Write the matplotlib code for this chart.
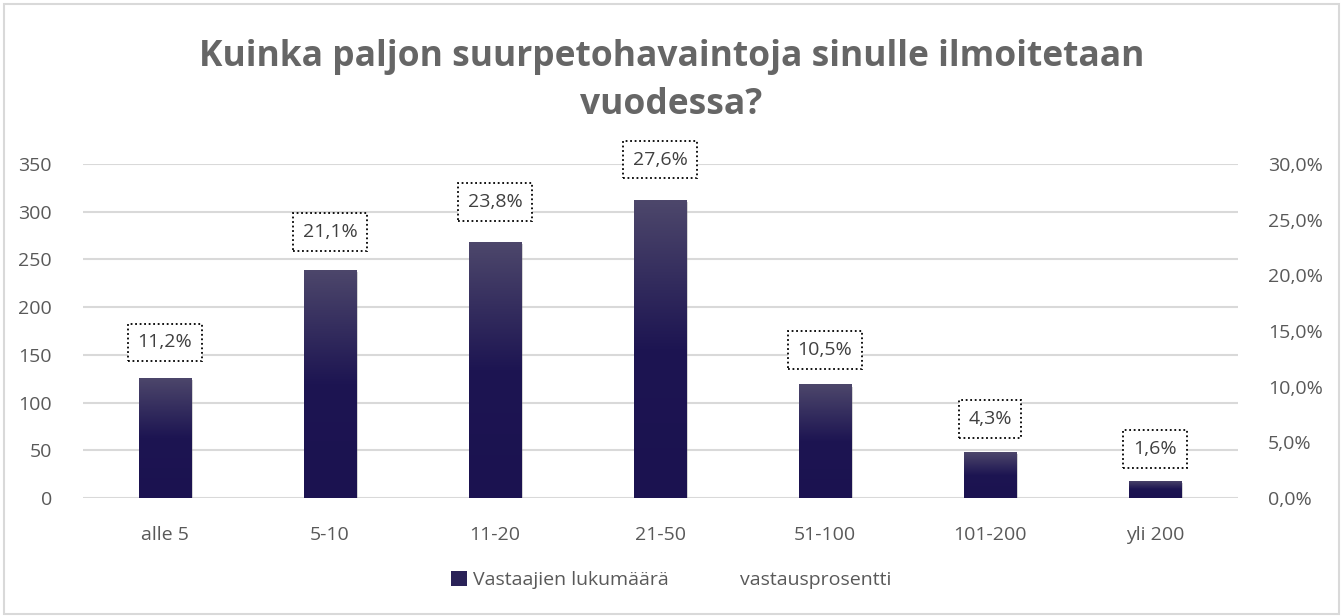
import numpy as np
import matplotlib.pyplot as plt
from matplotlib.colors import LinearSegmentedColormap
from matplotlib.lines import Line2D
from matplotlib.patches import Patch, Rectangle
import matplotlib.patheffects as pe

categories = ['alle 5', '5-10', '11-20', '21-50', '51-100', '101-200', 'yli 200']
counts = [126, 239, 268, 312, 119, 48, 18]
percents = [11.2, 21.1, 23.8, 27.6, 10.5, 4.3, 1.6]

left_ticks = [0, 50, 100, 150, 200, 250, 300, 350]
right_ticks = [0, 5, 10, 15, 20, 25, 30]

title = 'Kuinka paljon suurpetohavaintoja sinulle ilmoitetaan\nvuodessa?'
grey = '#595959'
font = 'Open Sans'

fig = plt.figure(figsize=(13.43, 6.16), dpi=100)
ax = fig.add_axes([82.5 / 1343, 118 / 616, 1155 / 1343, 334 / 616])
ax2 = ax.twinx()

# gradient from top (light) to dark, reaches dark about halfway down
cmap = LinearSegmentedColormap.from_list(
    'bar', [(0.0, '#1b1250'), (0.5, '#1d1552'), (1.0, '#4d476b')])
grad = np.linspace(0, 1, 256).reshape(-1, 1)

x = np.arange(len(categories))
bars = ax.bar(x, counts, width=0.32, color='#1b1250', zorder=2)
for b in bars:
    b.set_path_effects([pe.SimplePatchShadow(offset=(1.5, -1.5), shadow_rgbFace='#888888', alpha=0.35),
                        pe.Normal()])
    x0, y0 = b.get_x(), b.get_y()
    w, h = b.get_width(), b.get_height()
    im = ax.imshow(grad, cmap=cmap, origin='lower', aspect='auto',
                   extent=(x0, x0 + w, y0, y0 + h), zorder=3)
    im.set_clip_path(b)

ax.set_xlim(-0.5, len(categories) - 0.5)
ax.set_ylim(0, 350)
ax.set_yticks(left_ticks)
ax.set_xticks(x)
ax.set_xticklabels(categories)
ax.grid(axis='y', color='#d9d9d9', linewidth=1.5, zorder=0)
ax.set_axisbelow(True)
for s in ax.spines.values():
    s.set_visible(False)
ax.tick_params(axis='both', length=0, labelsize=14, labelcolor=grey)
ax.tick_params(axis='y', pad=22)
ax.tick_params(axis='x', pad=20)
for t in ax.get_xticklabels() + ax.get_yticklabels():
    t.set_fontfamily(font)

# invisible percent series on the secondary axis, labels only
pct_line, = ax2.plot(x, percents, color='none')
ax2.set_ylim(0, 30)
ax2.set_yticks(right_ticks)
ax2.set_yticklabels([f'{v:.1f}%'.replace('.', ',') for v in right_ticks])
for s in ax2.spines.values():
    s.set_visible(False)
ax2.tick_params(axis='y', length=0, labelsize=14, labelcolor=grey, pad=22)
for t in ax2.get_yticklabels():
    t.set_fontfamily(font)

for xi, p in zip(x, percents):
    ax2.annotate(f'{p:.1f}%'.replace('.', ','), (xi, p), xytext=(0, 31),
                 textcoords='offset pixels', ha='center', va='center',
                 fontsize=14, color='#404040', family=font,
                 bbox=dict(boxstyle='square,pad=0.5', fc='white', ec='black',
                           lw=1.3, ls=(0, (1, 1.5))), zorder=5)

fig.text(0.5, 1 - 81 / 616, title, ha='center', va='center', fontsize=25.5,
         fontweight='bold', color='#666666', family=font, linespacing=1.45)

handles = [Patch(facecolor='#2a2258', edgecolor='none'),
           Line2D([], [], color='none')]
fig.legend(handles, ['Vastaajien lukumäärä', 'vastausprosentti'],
           loc='center', bbox_to_anchor=(0.5, 1 - 580 / 616), ncol=2,
           frameon=False, labelcolor=grey,
           prop={'family': font, 'size': 14},
           handlelength=0.8, handleheight=0.8, handletextpad=0.3,
           columnspacing=2.6)

fig.patches.append(Rectangle((0.003, 0.003), 0.994, 0.99, transform=fig.transFigure,
                             fill=False, ec='#d9d9d9', lw=1.5))

fig.savefig('out.png', dpi=100)
